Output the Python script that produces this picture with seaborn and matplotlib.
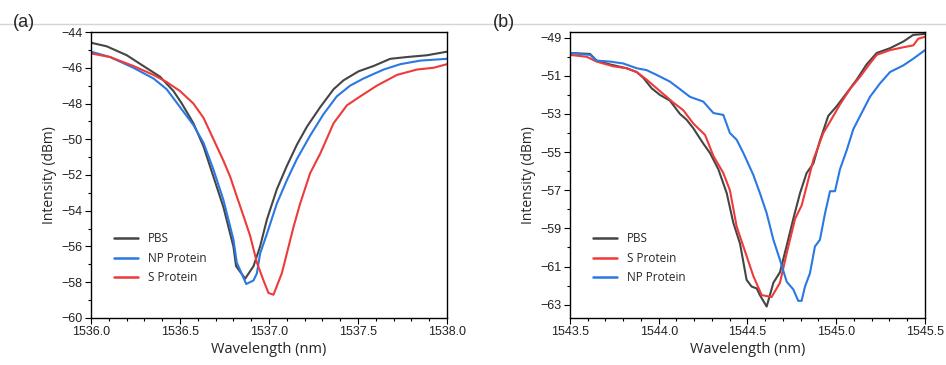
import numpy as np
import pandas as pd
import seaborn as sns
import matplotlib.pyplot as plt
from matplotlib.lines import Line2D
from matplotlib.ticker import MultipleLocator

# ---- panel (a) ----
a_pbs_wl = [1536.000, 1536.088, 1536.201, 1536.294, 1536.388, 1536.463, 1536.510, 1536.575,
            1536.632, 1536.688, 1536.744, 1536.800, 1536.815, 1536.866, 1536.913, 1536.950,
            1536.988, 1537.044, 1537.100, 1537.157, 1537.213, 1537.288, 1537.363, 1537.419,
            1537.503, 1537.588, 1537.681, 1537.775, 1537.888, 1537.944, 1538.000]
a_pbs = [-44.6, -44.8, -45.3, -45.9, -46.5, -47.3, -48.0, -49.1, -50.4, -52.1, -53.8, -56.0,
         -57.1, -57.8, -57.1, -56.0, -54.5, -52.8, -51.5, -50.3, -49.3, -48.2, -47.2, -46.7,
         -46.2, -45.9, -45.5, -45.4, -45.3, -45.2, -45.1]

a_np_wl = [1536.000, 1536.107, 1536.238, 1536.351, 1536.425, 1536.500, 1536.575, 1536.632,
           1536.688, 1536.744, 1536.800, 1536.819, 1536.872, 1536.913, 1536.932, 1536.950,
           1536.988, 1537.044, 1537.100, 1537.157, 1537.231, 1537.306, 1537.381, 1537.456,
           1537.531, 1537.644, 1537.738, 1537.850, 1538.000]
a_np = [-45.1, -45.4, -46.0, -46.6, -47.2, -48.2, -49.2, -50.2, -51.7, -53.4, -55.6, -56.9,
        -58.1, -57.9, -57.5, -56.4, -55.3, -53.6, -52.3, -51.1, -49.8, -48.6, -47.6, -47.0,
        -46.6, -46.1, -45.8, -45.6, -45.5]

a_s_wl = [1536.000, 1536.107, 1536.238, 1536.351, 1536.425, 1536.500, 1536.575, 1536.632,
          1536.688, 1536.744, 1536.782, 1536.819, 1536.857, 1536.894, 1536.932, 1536.969,
          1536.997, 1537.025, 1537.072, 1537.100, 1537.138, 1537.175, 1537.231, 1537.288,
          1537.363, 1537.438, 1537.513, 1537.606, 1537.719, 1537.831, 1537.925, 1538.000]
a_s = [-45.2, -45.4, -45.9, -46.4, -46.8, -47.3, -48.0, -48.8, -50.0, -51.2, -52.1, -53.2,
       -54.3, -55.4, -56.9, -57.9, -58.6, -58.7, -57.5, -56.4, -54.9, -53.6, -51.9, -50.8,
       -49.1, -48.1, -47.6, -47.0, -46.4, -46.1, -46.0, -45.8]

# ---- panel (b) ----
b_pbs_wl = [1543.500, 1543.613, 1543.650, 1543.725, 1543.819, 1543.876, 1543.913, 1543.960,
            1544.007, 1544.063, 1544.120, 1544.157, 1544.195, 1544.251, 1544.289, 1544.336,
            1544.383, 1544.420, 1544.458, 1544.495, 1544.523, 1544.552, 1544.570, 1544.608,
            1544.646, 1544.683, 1544.721, 1544.758, 1544.796, 1544.833, 1544.871, 1544.908,
            1544.955, 1545.002, 1545.059, 1545.115, 1545.171, 1545.228, 1545.303, 1545.378,
            1545.434, 1545.500]
b_pbs = [-49.8, -49.85, -50.2, -50.4, -50.6, -50.8, -51.1, -51.65, -52.0, -52.3, -53.0, -53.3,
         -53.75, -54.55, -55.05, -55.9, -57.15, -58.7, -59.8, -61.7, -62.05, -62.15, -62.5,
         -63.1, -61.85, -61.3, -59.9, -58.5, -57.15, -56.1, -55.6, -54.4, -53.1, -52.6, -51.9,
         -51.2, -50.4, -49.8, -49.55, -49.2, -48.85, -48.8]

b_s_wl = [1543.500, 1543.594, 1543.650, 1543.744, 1543.819, 1543.876, 1543.932, 1544.007,
          1544.082, 1544.138, 1544.195, 1544.261, 1544.308, 1544.364, 1544.401, 1544.439,
          1544.495, 1544.533, 1544.580, 1544.636, 1544.683, 1544.721, 1544.768, 1544.805,
          1544.833, 1544.871, 1544.927, 1544.984, 1545.021, 1545.077, 1545.134, 1545.190,
          1545.228, 1545.303, 1545.378, 1545.434, 1545.462, 1545.500]
b_s = [-49.9, -50.0, -50.25, -50.5, -50.6, -50.8, -51.2, -51.8, -52.4, -52.8, -53.5, -54.1,
       -55.2, -56.1, -57.0, -58.9, -60.45, -61.5, -62.5, -62.6, -61.85, -60.3, -58.5, -57.8,
       -56.8, -55.4, -54.0, -53.1, -52.5, -51.7, -51.05, -50.35, -49.9, -49.65, -49.5, -49.4,
       -49.05, -48.95]

b_np_wl = [1543.500, 1543.613, 1543.650, 1543.725, 1543.800, 1543.876, 1543.932, 1543.988,
           1544.063, 1544.120, 1544.176, 1544.251, 1544.308, 1544.364, 1544.401, 1544.439,
           1544.477, 1544.533, 1544.570, 1544.608, 1544.646, 1544.683, 1544.721, 1544.758,
           1544.786, 1544.805, 1544.824, 1544.852, 1544.880, 1544.908, 1544.937, 1544.965,
           1544.993, 1545.021, 1545.059, 1545.096, 1545.143, 1545.190, 1545.246, 1545.303,
           1545.378, 1545.434, 1545.500]
b_np = [-49.8, -49.9, -50.2, -50.25, -50.35, -50.6, -50.7, -50.95, -51.3, -51.7, -52.1, -52.35,
        -52.95, -53.05, -54.0, -54.35, -55.05, -56.2, -57.15, -58.2, -59.6, -60.65, -61.8,
        -62.2, -62.8, -62.8, -62.05, -61.35, -59.95, -59.6, -58.2, -57.05, -57.05, -55.9,
        -54.9, -53.8, -52.95, -52.1, -51.4, -50.8, -50.45, -50.1, -49.65]

COLORS = {"PBS": "#454545", "NP Protein": "#2a78e4", "S Protein": "#ee3a3a"}


def frame(series):
    parts = []
    for name, wl, val in series:
        parts.append(pd.DataFrame({"wl": wl, "dbm": val, "sample": name}))
    return pd.concat(parts, ignore_index=True)


def draw(ax, df, order, xlim, ylim, xticks, yticks):
    sns.lineplot(ax=ax, data=df, x="wl", y="dbm", hue="sample", hue_order=order,
                 palette=COLORS, estimator=None, sort=False, linewidth=1.5)
    ax.set_xlim(*xlim)
    ax.set_ylim(*ylim)
    ax.set_xticks(xticks)
    ax.set_yticks(yticks)
    ax.xaxis.set_minor_locator(MultipleLocator(0.1))
    ax.yaxis.set_minor_locator(MultipleLocator(1))
    ax.set_xticklabels([f"{t:.1f}" for t in xticks])
    ax.set_yticklabels([f"\u2212{abs(t):g}" for t in yticks])
    ax.tick_params(which="major", direction="out", length=4, width=0.8, color="black",
                   labelsize=9, pad=2, bottom=True, left=True, top=False, right=False)
    ax.tick_params(which="minor", direction="out", length=2.5, width=0.8, color="black",
                   bottom=True, left=True, top=False, right=False)
    for lab in ax.get_xticklabels() + ax.get_yticklabels():
        lab.set_fontfamily("Liberation Sans")
        lab.set_color("#222222")
    for sp in ax.spines.values():
        sp.set_linewidth(1.0)
        sp.set_color("black")
    ax.set_xlabel("Wavelength (nm)", fontsize=10.5, fontfamily="Open Sans", labelpad=3)
    ax.set_ylabel("Intensity (dBm)", fontsize=10, fontfamily="Open Sans", labelpad=3)
    ax.grid(False)
    leg = ax.legend(loc="lower left", bbox_to_anchor=(0.035, 0.08), frameon=False,
                    handlelength=2.0, handletextpad=0.9, labelspacing=0.55,
                    title=None, prop={"family": "Open Sans", "size": 8.5})
    for h in leg.get_lines():
        h.set_linewidth(1.8)


def main():
    sns.set_style("white")
    fig = plt.figure(figsize=(9.46, 3.65), dpi=100)
    ax1 = fig.add_axes([0.0962, 0.1288, 0.3763, 0.7835])
    ax2 = fig.add_axes([0.6025, 0.1288, 0.3753, 0.7835])

    df_a = frame([("PBS", a_pbs_wl, a_pbs), ("NP Protein", a_np_wl, a_np),
                  ("S Protein", a_s_wl, a_s)])
    df_b = frame([("PBS", b_pbs_wl, b_pbs), ("S Protein", b_s_wl, b_s),
                  ("NP Protein", b_np_wl, b_np)])

    draw(ax1, df_a, ["PBS", "NP Protein", "S Protein"], (1536.0, 1538.0), (-60, -44),
         np.arange(1536.0, 1538.01, 0.5), np.arange(-60, -43, 2))
    draw(ax2, df_b, ["PBS", "S Protein", "NP Protein"], (1543.5, 1545.5), (-63.7, -48.7),
         np.arange(1543.5, 1545.51, 0.5), np.arange(-63, -48, 2))

    # faint page rule across the top
    fig.add_artist(Line2D([0.0, 1.0], [0.934, 0.934], transform=fig.transFigure,
                          color="#d4d4d4", linewidth=1.0))
    fig.text(0.014, 0.925, "(a)", fontsize=13, fontfamily="Liberation Sans")
    fig.text(0.521, 0.925, "(b)", fontsize=13, fontfamily="Liberation Sans")

    fig.savefig("out.png", dpi=100)


if __name__ == "__main__":
    main()
